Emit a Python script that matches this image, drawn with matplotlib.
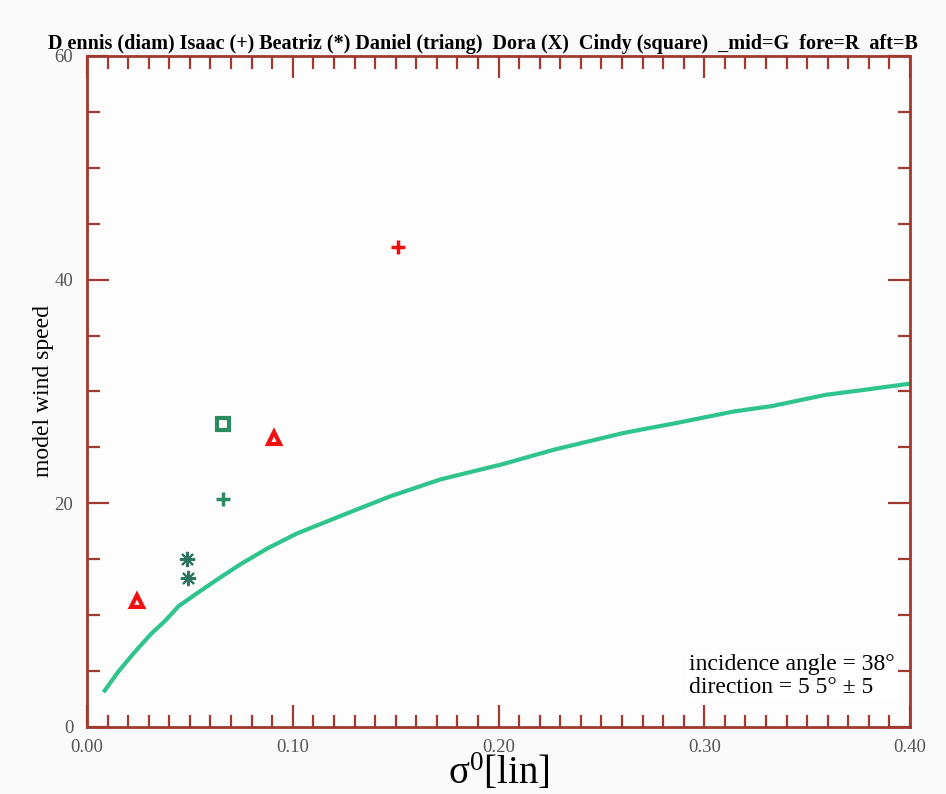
import matplotlib
matplotlib.use("Agg")
import matplotlib.pyplot as plt
from matplotlib.ticker import MultipleLocator

plt.rcParams["mathtext.fontset"] = "custom"
plt.rcParams["mathtext.rm"] = "Liberation Serif"
plt.rcParams["mathtext.it"] = "Liberation Serif:italic"

# Model curve: wind speed vs sigma0 (linear)
curve_sigma = [0.008, 0.015, 0.0227, 0.031, 0.038, 0.0445, 0.053, 0.065, 0.075,
               0.088, 0.102, 0.125, 0.147, 0.172, 0.202, 0.227, 0.261, 0.287,
               0.314, 0.333, 0.359, 0.380, 0.400]
curve_speed = [3.1, 4.9, 6.6, 8.3, 9.5, 10.8, 11.9, 13.4, 14.6,
               16.0, 17.3, 19.0, 20.6, 22.15, 23.5, 24.8, 26.3, 27.2,
               28.2, 28.7, 29.7, 30.2, 30.7]

# Storm observations
daniel_fore_sigma = [0.0243, 0.0908]
daniel_fore_speed = [11.25, 25.8]
isaac_fore_sigma = [0.151]
isaac_fore_speed = [42.9]
isaac_mid_sigma = [0.066]
isaac_mid_speed = [20.4]
cindy_mid_sigma = [0.066]
cindy_mid_speed = [27.05]
beatriz_mid_sigma = [0.0485, 0.049]
beatriz_mid_speed = [15.0, 13.3]

x_ticks = [0.0, 0.1, 0.2, 0.3, 0.4]
x_tick_labels = ["0.00", "0.10", "0.20", "0.30", "0.40"]
y_ticks = [0, 20, 40, 60]
y_tick_labels = ["0", "20", "40", "60"]

title = ("D ennis (diam) Isaac (+) Beatriz (*) Daniel (triang)  Dora (X)  "
         "Cindy (square)  _mid=G  fore=R  aft=B")

serif = ["Liberation Serif", "DejaVu Serif"]
spine_col = "#a03a2e"
red = "#f01010"
green = "#2e8b5f"

fig = plt.figure(figsize=(9.46, 7.94), dpi=100, facecolor="#fafafa")
ax = fig.add_axes([0.092, 0.0844, 0.870, 0.8451], facecolor="#fdfdfd")

ax.plot(curve_sigma, curve_speed, color="#2ec48c", lw=3, solid_capstyle="butt")
ax.plot(daniel_fore_sigma, daniel_fore_speed, ls="none", marker="^", ms=9,
        mfc="none", mec=red, mew=3)
ax.plot(isaac_fore_sigma, isaac_fore_speed, ls="none", marker="+", ms=10,
        mec=red, mew=2.5)
ax.plot(isaac_mid_sigma, isaac_mid_speed, ls="none", marker="+", ms=10,
        mec=green, mew=2.5)
ax.plot(cindy_mid_sigma, cindy_mid_speed, ls="none", marker="s", ms=9,
        mfc="none", mec=green, mew=3)
ax.plot(beatriz_mid_sigma, beatriz_mid_speed, ls="none", marker=(8, 2, 0),
        ms=11, mec="#2d7560", mew=1.5)

ax.set_xlim(0, 0.4)
ax.set_ylim(0, 60)

for s in ax.spines.values():
    s.set_color(spine_col)
    s.set_linewidth(2)

ax.set_xticks(x_ticks)
ax.set_xticklabels(x_tick_labels)
ax.set_yticks(y_ticks)
ax.set_yticklabels(y_tick_labels)
ax.xaxis.set_minor_locator(MultipleLocator(0.01))
ax.yaxis.set_minor_locator(MultipleLocator(5))
ax.tick_params(which="both", direction="in", top=True, right=True,
               color=spine_col, width=1.6)
ax.tick_params(which="major", length=16, labelsize=13.5, labelcolor="#555555")
ax.tick_params(which="minor", length=9)
ax.tick_params(axis="x", which="major", pad=9)
ax.tick_params(axis="y", which="major", pad=10)
for lab in ax.get_xticklabels() + ax.get_yticklabels():
    lab.set_family(serif)

ax.set_ylabel("model wind speed", family=serif, fontsize=17, labelpad=0)
ax.set_xlabel(r"σ$^{\mathrm{0}}$[lin]", family=serif, fontsize=28, labelpad=-3)

fig.text(0.51, 0.944, title, family=serif, fontsize=14.5, fontweight="bold",
         ha="center", va="center")

ax.text(0.732, 0.076, "incidence angle = 38°\ndirection = 5 5° ± 5",
        transform=ax.transAxes, family=serif, fontsize=17, ha="left",
        va="center", linespacing=1.15,
        bbox=dict(facecolor="white", edgecolor="none", pad=2))

fig.savefig("out.png", dpi=100, facecolor=fig.get_facecolor())
